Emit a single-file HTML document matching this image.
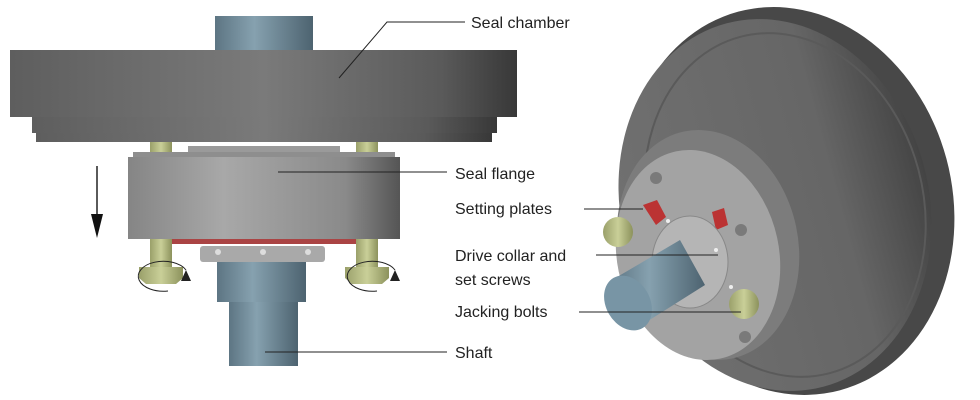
<!DOCTYPE html>
<html><head><meta charset="utf-8"><style>
html,body{margin:0;padding:0;background:#fff;overflow:hidden;width:980px;height:400px;}
svg{display:block;}
text{font-family:"Liberation Sans",sans-serif;font-size:16px;fill:#222;}
</style></head><body>
<svg width="980" height="400" viewBox="0 0 980 400" xmlns="http://www.w3.org/2000/svg">
<defs>
<clipPath id="cp"><rect x="0" y="0" width="980" height="400"/></clipPath>
<linearGradient id="gc" x1="0" x2="1"><stop offset="0" stop-color="#5e5e5e"/><stop offset="0.5" stop-color="#7a7a7a"/><stop offset="0.85" stop-color="#5a5a5a"/><stop offset="1" stop-color="#383838"/></linearGradient>
<linearGradient id="gf" x1="0" x2="1"><stop offset="0" stop-color="#858585"/><stop offset="0.35" stop-color="#a8a8a8"/><stop offset="0.8" stop-color="#8a8a8a"/><stop offset="1" stop-color="#555"/></linearGradient>
<linearGradient id="gs" x1="0" x2="1"><stop offset="0" stop-color="#5d7583"/><stop offset="0.4" stop-color="#86a1af"/><stop offset="1" stop-color="#4d6370"/></linearGradient>
<linearGradient id="gy" x1="0" x2="1"><stop offset="0" stop-color="#9aa06a"/><stop offset="0.5" stop-color="#c9cf98"/><stop offset="1" stop-color="#8c925c"/></linearGradient>
<linearGradient id="gd" x1="0" x2="1"><stop offset="0" stop-color="#707070"/><stop offset="0.7" stop-color="#666"/><stop offset="1" stop-color="#444"/></linearGradient>
</defs>
<g clip-path="url(#cp)">
<!-- LEFT -->
<rect x="215" y="16" width="98" height="36" fill="url(#gs)"/>
<rect x="10" y="50" width="507" height="67" fill="url(#gc)"/>
<rect x="32" y="117" width="465" height="16" fill="url(#gc)"/>
<rect x="36" y="133" width="456" height="9" fill="url(#gc)"/>
<rect x="150" y="142" width="22" height="10" fill="url(#gy)"/>
<rect x="356" y="142" width="22" height="10" fill="url(#gy)"/>
<rect x="188" y="146" width="152" height="8" fill="#9a9a9a"/>
<rect x="133" y="152" width="262" height="6" fill="#8e8e8e"/>
<rect x="128" y="157" width="272" height="82" fill="url(#gf)"/>
<rect x="168" y="239" width="190" height="5" fill="#a44"/>
<rect x="150" y="239" width="22" height="28" fill="url(#gy)"/>
<rect x="356" y="239" width="22" height="28" fill="url(#gy)"/>
<polygon points="139,267 183,267 183,278 176,284 146,284 139,278" fill="url(#gy)"/>
<polygon points="345,267 389,267 389,278 382,284 352,284 345,278" fill="url(#gy)"/>
<rect x="200" y="246" width="125" height="16" fill="#a9a9a9" rx="3"/>
<circle cx="218" cy="252" r="3" fill="#ddd"/><circle cx="263" cy="252" r="3" fill="#ddd"/><circle cx="308" cy="252" r="3" fill="#ddd"/>
<rect x="217" y="262" width="89" height="40" fill="url(#gs)"/>
<rect x="229" y="302" width="69" height="64" fill="url(#gs)"/>
<path d="M168,291 A25,15 0 1 1 186,270" fill="none" stroke="#222" stroke-width="1"/>
<path d="M377,291 A25,15 0 1 1 395,270" fill="none" stroke="#222" stroke-width="1"/>
<polygon points="186,270 191,281 181,281" fill="#222"/>
<polygon points="395,270 400,281 390,281" fill="#222"/>
<line x1="97" y1="166" x2="97" y2="220" stroke="#222" stroke-width="1.5"/>
<polygon points="91,214 103,214 97,238" fill="#111"/>
<!-- RIGHT -->
<ellipse cx="789" cy="201" rx="163" ry="196" transform="rotate(-15 789 201)" fill="#484848"/>
<ellipse cx="775" cy="205" rx="154" ry="188" transform="rotate(-15 775 205)" fill="url(#gd)"/>
<ellipse cx="785" cy="205" rx="138" ry="174" transform="rotate(-15 785 205)" fill="none" stroke="#5a5a5a" stroke-width="2"/>
<ellipse cx="708" cy="245" rx="90" ry="116" transform="rotate(-12 708 245)" fill="#7c7c7c"/>
<ellipse cx="698" cy="255" rx="81" ry="106" transform="rotate(-12 698 255)" fill="#a3a3a3"/>
<circle cx="656" cy="178" r="6" fill="#7a7a7a"/><circle cx="741" cy="230" r="6" fill="#7a7a7a"/><circle cx="745" cy="337" r="6" fill="#7a7a7a"/>
<polygon points="643,205 657,200 666,217 656,225" fill="#b33"/>
<polygon points="712,212 724,208 728,225 716,230" fill="#b33"/>
<ellipse cx="690" cy="262" rx="38" ry="46" fill="#b5b5b5" stroke="#888"/>
<circle cx="716" cy="250" r="2" fill="#eee"/><circle cx="668" cy="221" r="2" fill="#eee"/><circle cx="731" cy="287" r="2" fill="#eee"/>
<polygon points="612,280 680,240 705,285 640,326" fill="url(#gs)"/>
<ellipse cx="628" cy="303" rx="22" ry="29" transform="rotate(-30 628 303)" fill="#7895a5"/>
<circle cx="618" cy="232" r="15" fill="url(#gy)"/>
<circle cx="744" cy="304" r="15" fill="url(#gy)"/>
<!-- leaders -->
<g stroke="#222" stroke-width="1" fill="none">
<polyline points="339,78 387,22 465,22"/>
<line x1="278" y1="172" x2="447" y2="172"/>
<line x1="584" y1="209" x2="643" y2="209"/>
<line x1="596" y1="255" x2="718" y2="255"/>
<line x1="579" y1="312" x2="741" y2="312"/>
<line x1="265" y1="352" x2="447" y2="352"/>
</g>
<text x="471" y="28">Seal chamber</text>
<text x="455" y="179">Seal flange</text>
<text x="455" y="214">Setting plates</text>
<text x="455" y="261">Drive collar and</text>
<text x="455" y="285">set screws</text>
<text x="455" y="317">Jacking bolts</text>
<text x="455" y="358">Shaft</text>
</g>
</svg>
</body></html>
